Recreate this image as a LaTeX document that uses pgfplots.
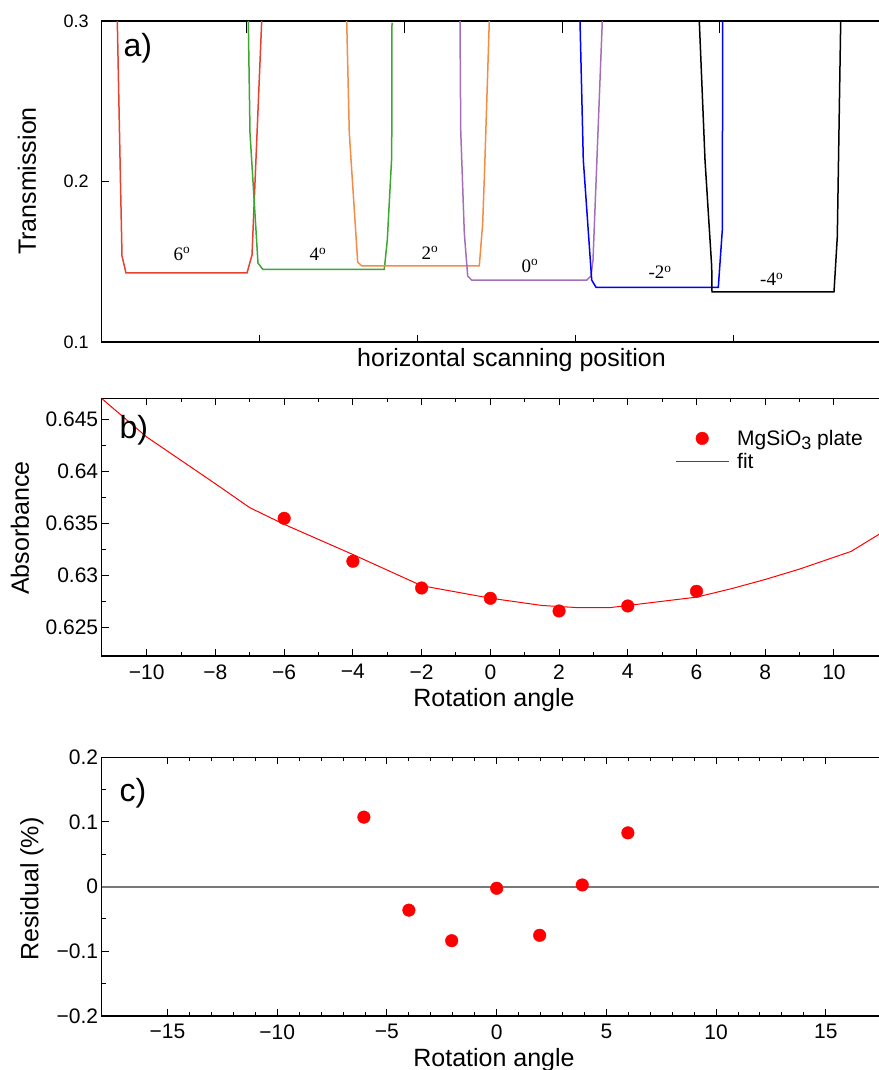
\documentclass[border=0pt]{standalone}
\usepackage{fontspec}
\setmainfont{Liberation Sans}
\newfontfamily\seriffont{Liberation Serif}
\usepackage{pgfplots}
\pgfplotsset{compat=1.18}
\definecolor{cred}{RGB}{232,65,45}
\definecolor{cgreen}{RGB}{60,168,50}
\definecolor{corange}{RGB}{244,140,70}
\definecolor{cpurple}{RGB}{165,110,185}
\definecolor{cblue}{RGB}{0,0,255}
\definecolor{cmark}{RGB}{255,0,0}
\definecolor{cgray}{RGB}{120,120,120}
\pgfplotsset{
  legmark/.style={legend image code/.code={\path (0pt,0pt) (53pt,0pt); \draw[##1] plot coordinates {(26.5pt,0pt)};}},
  legline/.style={legend image code/.code={\draw[cmark, line width=1pt] (0pt,0pt) -- (53pt,0pt);}}
}
\begin{document}
\begin{tikzpicture}
\path[use as bounding box] (0pt,0pt) rectangle (878pt,-1070pt);
\pgfplotsset{every axis/.append style={
  scale only axis, anchor=north west, tick align=inside,
  axis line style={line width=1.3pt},
  every tick/.style={black,line width=1pt},
  major tick length=7pt, minor tick length=4pt,
  /pgf/number format/assume math mode=true,
  tick label style={font=\fontsize{21}{24}\selectfont},
  ytick pos=left}}
% ---------- panel a ----------
\begin{axis}[at={(101.7pt,-21pt)}, width=778.3pt, height=321pt,
  xmin=101.7, xmax=880, ymin=0.1, ymax=0.3,
  xtick={259,417,575,733}, xticklabels={}, xtick pos=left,
  ytick={0.1,0.2,0.3}, yticklabels={0.1,0.2,0.3},
  yticklabel style={font=\fontsize{18}{20}\selectfont, xshift=-9pt},
  line width=1.5pt]
\addplot[cred] coordinates {(117.3,0.3) (120.5,0.1991) (122,0.1536) (126,0.143) (247,0.143) (252,0.1542) (261.7,0.3)};
\addplot[cgreen] coordinates {(248.3,0.3) (250,0.2302) (258,0.1492) (262.7,0.1453) (384.3,0.1453) (387.3,0.1636) (391.7,0.2153) (392,0.2988)};
\addplot[corange] coordinates {(346.7,0.3) (349.3,0.2302) (357.7,0.1497) (361.7,0.1475) (479.3,0.1475) (482.7,0.1741) (484.7,0.209) (489.3,0.3)};
\addplot[cpurple] coordinates {(460,0.3) (460.7,0.2321) (464.3,0.1679) (467.7,0.1411) (471.7,0.1386) (586.7,0.1386) (591,0.1411) (593,0.1511) (602.3,0.3)};
\addplot[cblue] coordinates {(580,0.3) (583.3,0.2134) (591.7,0.1386) (596,0.1341) (718.3,0.1341) (722.3,0.1698) (722.7,0.3)};
\addplot[black] coordinates {(699.3,0.3) (705,0.2134) (711.7,0.1469) (712,0.1313) (834,0.1313) (837.3,0.1656) (840.7,0.3)};
\begin{scope}[every node/.style={font=\seriffont\fontsize{19}{22}\selectfont}]
\node at (axis cs:182,0.1548) {6\textsuperscript{o}};
\node at (axis cs:318,0.1548) {4\textsuperscript{o}};
\node at (axis cs:430,0.1555) {2\textsuperscript{o}};
\node at (axis cs:530,0.1474) {0\textsuperscript{o}};
\node at (axis cs:660,0.1436) {-2\textsuperscript{o}};
\node at (axis cs:771.7,0.1391) {-4\textsuperscript{o}};
\end{scope}
\end{axis}
\begin{axis}[at={(101.7pt,-21pt)}, width=778.3pt, height=321pt,
  xmin=101.7, xmax=880, ymin=0.1, ymax=0.3,
  axis line style={draw=none}, ytick=\empty,
  xtick={246,404,562,719}, xticklabels={}, xtick pos=right,
  major tick length=12pt]
\end{axis}
\node[rotate=90, font=\fontsize{25}{28}\selectfont] at (27pt,-181pt) {Transmission};
\node[font=\fontsize{25}{28}\selectfont] at (511.5pt,-360pt) {horizontal scanning position};
\node[font=\fontsize{32}{34}\selectfont, anchor=west] at (120pt,-48pt) {a)};
% ---------- panel b ----------
\begin{axis}[at={(101.7pt,-398.3pt)}, width=778.3pt, height=257.7pt,
  xmin=-11.31, xmax=11.34, ymin=0.62224, ymax=0.64702,
  xtick={-10,-8,...,10}, xticklabels={−10,−8,−6,−4,−2,0,2,4,6,8,10},
  xticklabel style={yshift=-5pt},
  minor x tick num=1,
  ytick={0.625,0.63,0.635,0.64,0.645}, yticklabels={0.625,0.63,0.635,0.64,0.645},
  minor y tick num=1,
  legend style={draw=none, fill=none, at={(0.7366,0.885)}, anchor=north west,
    inner sep=0pt, font=\fontsize{21}{24}\selectfont,
    cells={anchor=west, inner sep=2pt, text height=15pt, text depth=5pt},
    row sep=2.5pt, column sep=6pt},
  legend cell align=left]
\addplot[only marks, mark=*, mark size=6.3pt, color=cmark, legmark]
  coordinates {(-6,0.63548) (-4,0.63135) (-2,0.62878) (0,0.62779) (2,0.62657) (4,0.62705) (6,0.62846)};
\addlegendentry{MgSiO\raisebox{-0.35ex}{\fontsize{18}{20}\selectfont 3} plate}
\addplot[cmark, line width=1pt, legline]
  coordinates {(-11.31,0.6470) (-10,0.6433) (-8,0.6388) (-7,0.6365) (-6,0.6349) (-4,0.6320) (-2,0.6290) (0,0.6278) (1.5,0.6271) (2.5,0.6269) (3.5,0.6269) (4,0.6271) (6,0.6279) (7,0.6287) (8,0.6296) (9,0.6306) (10.5,0.6323) (11.34,0.6340)};
\addlegendentry{fit}
\end{axis}
\node[rotate=90, font=\fontsize{25}{28}\selectfont] at (20pt,-528pt) {Absorbance};
\node[font=\fontsize{25}{28}\selectfont] at (494pt,-700pt) {Rotation angle};
\node[font=\fontsize{32}{34}\selectfont, anchor=west] at (116pt,-430pt) {b)};
% ---------- panel c ----------
\begin{axis}[at={(101.7pt,-757.3pt)}, width=778.3pt, height=258.7pt,
  xmin=-18.0, xmax=17.47, ymin=-0.2, ymax=0.2,
  xtick={-15,-10,...,15}, xticklabels={−15,−10,−5,0,5,10,15},
  xticklabel style={yshift=-5pt},
  minor x tick num=4,
  ytick={-0.2,-0.1,0,0.1,0.2}, yticklabels={−0.2,−0.1,0,0.1,0.2},
  minor y tick num=1]
\addplot[cgray, line width=1.8pt] coordinates {(-18,0) (17.47,0)};
\addplot[only marks, mark=*, mark size=6.3pt, color=cmark]
  coordinates {(-6.05,0.1075) (-4,-0.0363) (-2.05,-0.0835) (0,-0.0025) (1.96,-0.0752) (3.9,0.0026) (5.98,0.0832)};
\end{axis}
\node[rotate=90, font=\fontsize{25}{28}\selectfont] at (32pt,-889pt) {Residual (\%)};
\node[font=\fontsize{25}{28}\selectfont] at (494pt,-1060pt) {Rotation angle};
\node[font=\fontsize{32}{34}\selectfont, anchor=west] at (116pt,-793pt) {c)};
\end{tikzpicture}
\end{document}
